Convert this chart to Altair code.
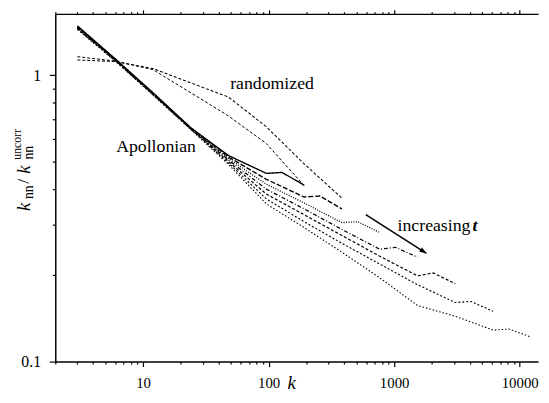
import altair as alt
import pandas as pd

# ---------------- data ----------------
series_names = ["t1", "t2", "t3", "t4", "t5", "t6", "t7", "r1", "r2"]

k_t1 = [3, 6, 12, 24, 48, 96, 128, 192]
v_t1 = [1.485, 1.140, 0.868, 0.655, 0.5236, 0.4539, 0.4575, 0.4128]
k_t2 = [3, 6, 12, 24, 48, 96, 192, 256, 384]
v_t2 = [1.478, 1.136, 0.865, 0.654, 0.5173, 0.4328, 0.3754, 0.3784, 0.3413]
k_t3 = [3, 6, 12, 24, 48, 96, 192, 384, 512, 768]
v_t3 = [1.471, 1.133, 0.862, 0.652, 0.5111, 0.4161, 0.3579, 0.3055, 0.3079, 0.2822]
k_t4 = [3, 6, 12, 24, 48, 96, 192, 384, 768, 1024, 1536]
v_t4 = [1.464, 1.130, 0.860, 0.651, 0.5051, 0.3999, 0.3413, 0.2891, 0.2467, 0.2506, 0.2315]
k_t5 = [3, 6, 12, 24, 48, 96, 192, 384, 768, 1536, 2048, 3072]
v_t5 = [1.457, 1.127, 0.857, 0.649, 0.4991, 0.3844, 0.3256, 0.2755, 0.2333, 0.1992, 0.2040, 0.1869]
k_t6 = [3, 6, 12, 24, 48, 96, 192, 384, 768, 1536, 3072, 4096, 6144]
v_t6 = [1.450, 1.124, 0.855, 0.648, 0.4932, 0.3695, 0.3079, 0.2587, 0.2190, 0.1855, 0.1608, 0.1621, 0.1498]
k_t7 = [3, 6, 12, 24, 48, 96, 192, 384, 768, 1536, 3072, 6144, 8192, 12288]
v_t7 = [1.443, 1.120, 0.852, 0.646, 0.4875, 0.3551, 0.2937, 0.2408, 0.1960, 0.1570, 0.1439, 0.1288, 0.1299, 0.1219]
k_r1 = [3, 6, 12, 24, 48, 96, 192, 384]
v_r1 = [1.13, 1.115, 1.054, 0.94, 0.838, 0.66, 0.49, 0.372]
k_r2 = [3, 6, 12, 24, 48, 96, 192]
v_r2 = [1.16, 1.12, 1.045, 0.868, 0.72, 0.577, 0.411]

x_tick_values = [2, 3, 4, 5, 6, 7, 8, 9,
                 10, 20, 30, 40, 50, 60, 70, 80, 90,
                 100, 200, 300, 400, 500, 600, 700, 800, 900,
                 1000, 2000, 3000, 4000, 5000, 6000, 7000, 8000, 9000,
                 10000]
y_tick_values = [0.1, 0.2, 0.3, 0.4, 0.5, 0.6, 0.7, 0.8, 0.9, 1]

arrow_k = [594, 1808]
arrow_v = [0.3256, 0.2389]

# ---------------- tables ----------------
all_k = [k_t1, k_t2, k_t3, k_t4, k_t5, k_t6, k_t7, k_r1, k_r2]
all_v = [v_t1, v_t2, v_t3, v_t4, v_t5, v_t6, v_t7, v_r1, v_r2]
rows = []
for name, ks, vs in zip(series_names, all_k, all_v):
    for i, (k, v) in enumerate(zip(ks, vs)):
        rows.append({"series": name, "k": k, "v": v, "i": i})
df = pd.DataFrame(rows)

arrow_df = pd.DataFrame({"k": [arrow_k[0]], "v": [arrow_v[0]],
                         "k2": [arrow_k[1]], "v2": [arrow_v[1]]})
head_df = pd.DataFrame({"k": [arrow_k[1]], "v": [arrow_v[1]]})

dashes = [[1, 0], [5, 2], [1, 1.5], [4, 2, 1, 2], [3, 2], [2, 2], [1.5, 2], [3, 2], [3, 2]]
widths = [1.4, 1, 1, 1, 1, 1, 1, 1, 1]

FONT = "Liberation Serif"

xs = alt.Scale(type="log", domain=[2, 14000], nice=False)
ys = alt.Scale(type="log", domain=[0.1, 1.637], nice=False)

major_x = "indexof([10,100,1000,10000], datum.value) >= 0"
x_axis = alt.Axis(
    orient="bottom", values=x_tick_values,
    labelExpr=f"{major_x} ? format(datum.value, 'd') : ''",
    tickSize={"condition": {"test": major_x, "value": 5}, "value": 2.5},
    grid=False, title=None, labelFont=FONT, labelFontSize=15, labelColor="black",
    domainColor="black", tickColor="black", domainWidth=1.5, tickWidth=1.2,
    labelPadding=9, labelOverlap=False, labelFlush=False,
)
x_axis_top = alt.Axis(
    orient="top", values=x_tick_values, labels=False,
    tickSize={"condition": {"test": major_x, "value": 4}, "value": 2},
    grid=False, title=None, domainColor="black", tickColor="black",
    domainWidth=1.2, tickWidth=1.2,
)
major_y = "datum.value == 1 || datum.value == 0.1"
y_axis = alt.Axis(
    orient="left", values=y_tick_values,
    labelExpr="datum.value == 1 ? '1' : (datum.value == 0.1 ? '0.1' : '')",
    tickSize={"condition": {"test": major_y, "value": 6}, "value": 3},
    grid=False, title=None, labelFont=FONT, labelFontSize=16, labelColor="black",
    domainColor="black", tickColor="black", domainWidth=1.5, tickWidth=1.2,
    labelPadding=9, labelOverlap=False, labelFlush=False,
)

base = alt.Chart(df)
lines = base.mark_line(color="black").encode(
    x=alt.X("k:Q", scale=xs, axis=x_axis),
    y=alt.Y("v:Q", scale=ys, axis=y_axis),
    strokeDash=alt.StrokeDash("series:N", scale=alt.Scale(domain=series_names, range=dashes), legend=None),
    strokeWidth=alt.StrokeWidth("series:N", scale=alt.Scale(domain=series_names, range=widths), legend=None),
    order="i:Q",
)
top_axis_layer = base.mark_line(opacity=0).encode(
    x=alt.X("k:Q", scale=xs, axis=x_axis_top),
    y=alt.Y("v:Q", scale=ys, axis=y_axis),
    detail="series:N",
)

arrow = alt.Chart(arrow_df).mark_rule(color="black", strokeWidth=1.5).encode(
    x=alt.X("k:Q", axis=None), y=alt.Y("v:Q", axis=y_axis),
    x2="k2:Q", y2="v2:Q")
head = alt.Chart(head_df).mark_point(
    shape="M0,0L-2,-0.75L-2,0.75Z", filled=True, size=49, angle=32.3,
    color="black", opacity=1, strokeWidth=0).encode(
    x=alt.X("k:Q", axis=None), y=alt.Y("v:Q", axis=y_axis))

ann_text = ["randomized", "Apollonian", "increasing"]
ann_k = [106.5, 12.69, 1065]
ann_v = [0.897, 0.5375, 0.2868]
ann_align = ["center", "center", "left"]
layers = [lines, top_axis_layer, arrow, head]
for t, k, v, a in zip(ann_text, ann_k, ann_v, ann_align):
    layers.append(
        alt.Chart(pd.DataFrame({"k": [k], "v": [v]})).mark_text(
            text=t, font=FONT, fontSize=18, align=a, baseline="alphabetic", color="black"
        ).encode(x=alt.X("k:Q", axis=None), y=alt.Y("v:Q", axis=y_axis))
    )
layers.append(
    alt.Chart(pd.DataFrame({"k": [4203], "v": [0.2868]})).mark_text(
        text="t", font=FONT, fontSize=18, fontStyle="italic", fontWeight="bold",
        align="left", baseline="alphabetic", color="black"
    ).encode(x=alt.X("k:Q", axis=None), y=alt.Y("v:Q", axis=y_axis))
)

# axis titles built from pieces (pixel offsets relative to plot area)
dummy = pd.DataFrame({"a": [0]})
def piece(txt, px, py, size, italic=False, angle=0):
    kw = dict(text=txt, font=FONT, fontSize=size, align="center", baseline="middle", color="black")
    if italic:
        kw["fontStyle"] = "italic"
    if angle:
        kw["angle"] = angle
    return alt.Chart(dummy).mark_text(**kw).encode(x=alt.value(px), y=alt.value(py))

layers += [
    piece("k", 240, 375, 19, italic=True),
    piece("k", -32, 196, 19, italic=True, angle=270),
    piece("nn", -26.5, 181, 14, angle=270),
    piece("/", -32, 170, 18, angle=270),
    piece("k", -32, 158, 19, italic=True, angle=270),
    piece("nn", -26.5, 141, 14, angle=270),
    piece("uncorr", -39, 132.5, 12, angle=270),
]

chart = alt.layer(*layers).resolve_axis(x="independent").properties(
    width=490, height=353,
    autosize=alt.AutoSizeParams(type="none"),
    padding={"left": 48, "top": 3, "right": 3, "bottom": 31},
).configure_view(stroke=None)

chart.save("out.html", embed_options={"renderer": "svg", "actions": False})
